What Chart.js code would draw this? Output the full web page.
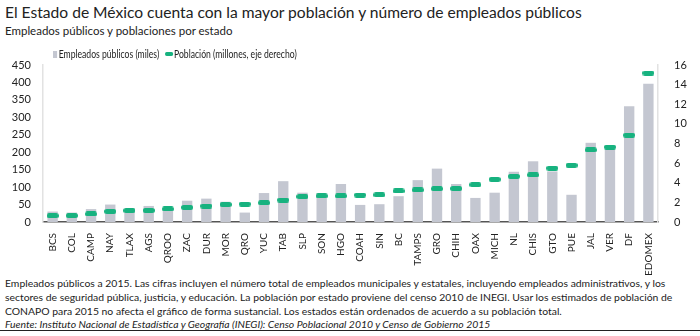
<!DOCTYPE html>
<html>
<head>
<meta charset="utf-8">
<script src="https://cdn.jsdelivr.net/npm/chart.js@4"></script>
<style>
  body { margin: 0; background: #fff; font-family: Lato, "Open Sans", sans-serif; color: #222; }
  #wrap { position: relative; width: 700px; height: 336px; overflow: hidden; }
  #title { position: absolute; left: 5px; top: 3px; font-size: 15.6px; color: #222; white-space: nowrap; }
  #subtitle { position: absolute; left: 5px; top: 24px; font-size: 11.5px; white-space: nowrap; }
  #legend { position: absolute; top: 48px; left: 53px; font-size: 10.5px; white-space: nowrap; }
  #legend span.item { position: absolute; top: 0; transform: scaleX(0.82); transform-origin: left center; }
  .sq { display: inline-block; width: 5px; height: 7px; background: #c4c7d1; margin-right: 2px; }
  .dash { display: inline-block; width: 10px; height: 4px; border-radius: 2px; background: #17b27f; margin-right: 1px; vertical-align: 2px; }
  #chartBox { position: absolute; left: 0; top: 45px; width: 700px; height: 232px; }
  #notes { position: absolute; left: 5px; top: 277px; width: 695px; font-size: 10.4px; line-height: 13.8px; }
  #source { position: absolute; left: 0; top: 318px; width: 700px; font-size: 10.4px; font-style: italic; border-bottom: 1px solid #222; padding-left: 5px; line-height: 12px; }
</style>
</head>
<body>
<div id="wrap">
  <div id="title">El Estado de México cuenta con la mayor población y número de empleados públicos</div>
  <div id="subtitle">Empleados públicos y poblaciones por estado</div>
  <div id="chartBox"><canvas id="chart"></canvas></div>
  <div id="legend">
    <span class="item" style="left:0"><span class="sq"></span>Empleados públicos (miles)</span>
    <span class="item" style="left:112px"><span class="dash"></span>Población (millones, eje derecho)</span>
  </div>
  <div id="notes">Empleados públicos a 2015. Las cifras incluyen el número total de empleados municipales y estatales, incluyendo empleados administrativos, y los sectores de seguridad pública, justicia, y educación. La población por estado proviene del censo 2010 de INEGI. Usar los estimados de población de CONAPO para 2015 no afecta el gráfico de forma sustancial. Los estados están ordenados de acuerdo a su población total.</div>
  <div id="source">Fuente: Instituto Nacional de Estadística y Geografía (INEGI): Censo Poblacional 2010 y Censo de Gobierno 2015</div>
</div>
<script>
// Datos
const estados = ['BCS', 'COL', 'CAMP', 'NAY', 'TLAX', 'AGS', 'QROO', 'ZAC', 'DUR', 'MOR', 'QRO', 'YUC', 'TAB', 'SLP', 'SON', 'HGO',
  'COAH', 'SIN', 'BC', 'TAMPS', 'GRO', 'CHIH', 'OAX', 'MICH', 'NL', 'CHIS', 'GTO', 'PUE', 'JAL', 'VER', 'DF', 'EDOMEX'];
const empleados = [30, 27, 37, 50, 39, 46, 39, 61, 67, 58, 27, 83, 117, 84, 82, 109,
  49, 51, 74, 120, 153, 109, 69, 84, 144, 174, 145, 78, 227, 218, 332, 396];
const poblacion = [0.64, 0.65, 0.82, 1.08, 1.17, 1.18, 1.33, 1.49, 1.63, 1.78, 1.83, 1.96, 2.24, 2.59, 2.66, 2.66,
  2.75, 2.77, 3.16, 3.27, 3.39, 3.41, 3.80, 4.35, 4.65, 4.80, 5.49, 5.78, 7.35, 7.64, 8.85, 15.18];
const ticksIzq = [0, 50, 100, 150, 200, 250, 300, 350, 400, 450];
const ticksDer = [0, 2, 4, 6, 8, 10, 12, 14, 16];

const gris = '#c4c7d1';
const verde = '#17b27f';

// marcador de guion redondeado para la población
function makeDash() {
  const c = document.createElement('canvas');
  c.width = 12; c.height = 5;
  const g = c.getContext('2d');
  g.fillStyle = verde;
  g.beginPath();
  g.roundRect(0, 0, 12, 5, 2.5);
  g.fill();
  return c;
}

const fuente = "Lato, 'Open Sans', sans-serif";

new Chart(document.getElementById('chart'), {
  data: {
    labels: estados,
    datasets: [
      {
        type: 'line',
        label: 'Población (millones, eje derecho)',
        data: poblacion,
        yAxisID: 'y1',
        showLine: false,
        pointStyle: makeDash(),
        borderColor: verde,
        backgroundColor: verde,
        order: 0
      },
      {
        type: 'bar',
        label: 'Empleados públicos (miles)',
        data: empleados,
        yAxisID: 'y',
        backgroundColor: gris,
        barPercentage: 0.54,
        categoryPercentage: 1,
        order: 1
      }
    ]
  },
  options: {
    responsive: true,
    maintainAspectRatio: false,
    animation: false,
    layout: { padding: { top: 20, left: 0, right: 0, bottom: 0 } },
    plugins: {
      legend: { display: false },
      tooltip: { enabled: false }
    },
    scales: {
      x: {
        grid: { display: false },
        border: { display: true, color: '#555', width: 1.5 },
        ticks: { color: '#222', font: { family: fuente, size: 10 }, maxRotation: 90, minRotation: 90, autoSkip: false, padding: 3 },
        afterFit: (s) => { s.height = 55; }
      },
      y: {
        position: 'left',
        min: 0, max: 450,
        afterBuildTicks: (s) => { s.ticks = ticksIzq.map(v => ({ value: v })); },
        grid: { display: false },
        border: { display: true, color: '#e2e2e2', width: 1.5 },
        ticks: { color: '#222', font: { family: fuente, size: 11 }, padding: 4 },
        afterFit: (s) => { s.width = 43; }
      },
      y1: {
        position: 'right',
        min: 0, max: 16,
        afterBuildTicks: (s) => { s.ticks = ticksDer.map(v => ({ value: v })); },
        grid: { display: false },
        border: { display: true, color: '#e2e2e2', width: 1.5 },
        ticks: { color: '#222', font: { family: fuente, size: 11 }, padding: 8 },
        afterFit: (s) => { s.width = 42; }
      }
    }
  }
});
</script>
</body>
</html>
